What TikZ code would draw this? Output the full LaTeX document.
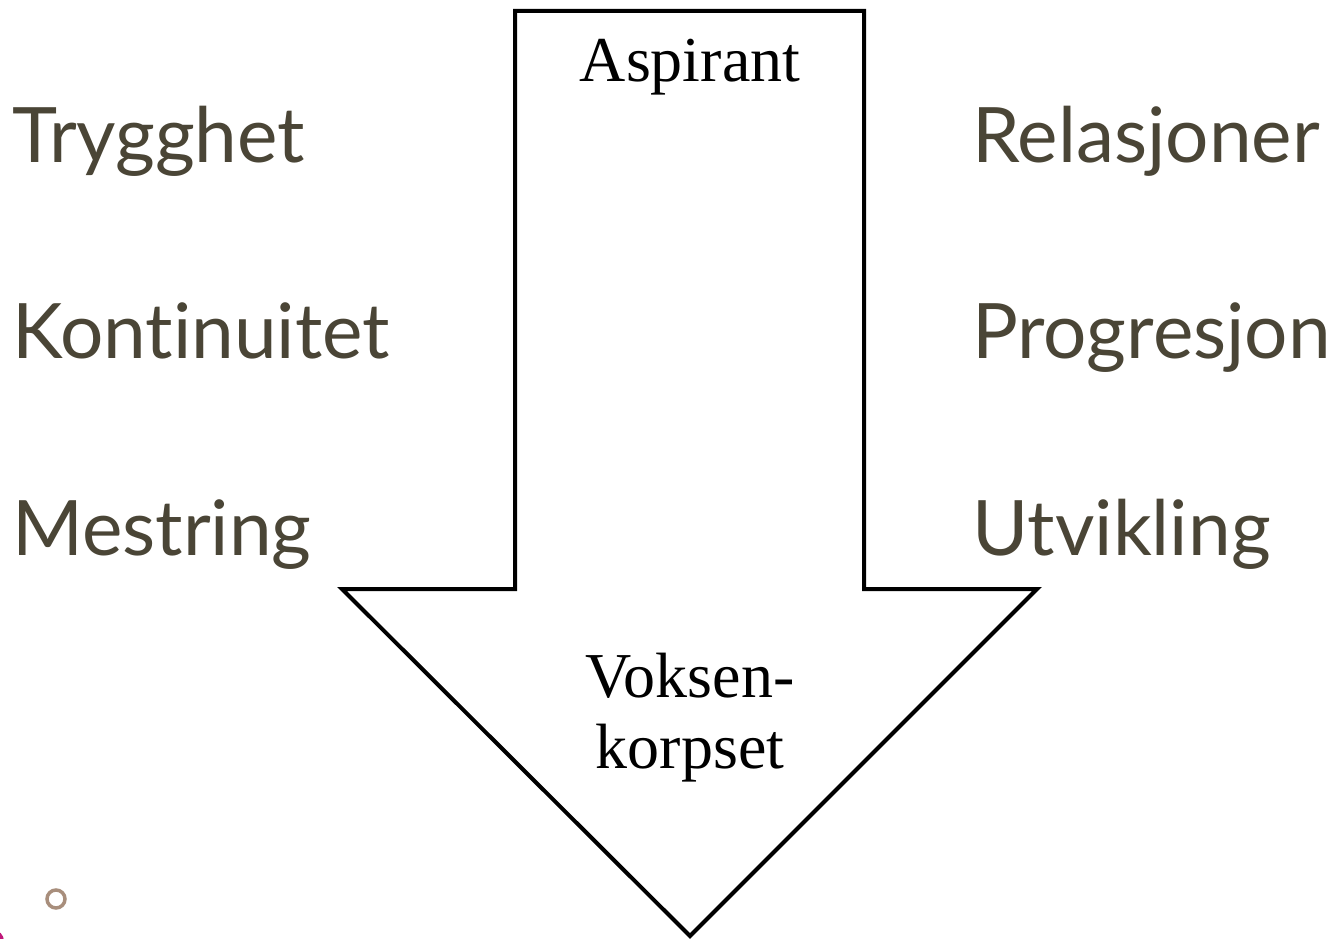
\documentclass[tikz,border=0pt]{standalone}
\usepackage{fontspec}
\setmainfont{Liberation Serif}
\newfontfamily\sidefont[Ligatures=NoCommon]{Lato}
\definecolor{sidegray}{HTML}{4A4536}
\definecolor{ringbrown}{HTML}{A88E7C}
\definecolor{dotmag}{HTML}{C0187A}
\begin{document}
\begin{tikzpicture}[x=1pt,y=-1pt,
  sidelabel/.style={anchor=base west,inner sep=0pt,text=sidegray,font=\sidefont\fontsize{76.5}{80}\selectfont},
  arrowlabel/.style={anchor=base,inner sep=0pt,font=\fontsize{64}{71}\selectfont}]
\useasboundingbox (0,0) rectangle (1333,939);
\fill[white] (0,0) rectangle (1333,939);
\draw[line width=4pt,line join=miter,fill=white]
  (515,11) -- (864,11) -- (864,589) -- (1037,589) -- (690,936) -- (342,589) -- (515,589) -- cycle;
\node[arrowlabel] (asp) at (690,82) {Aspirant};
\node[arrowlabel] (vok1) at (690,697) {Voksen-};
\node[arrowlabel] (vok2) at (690,768) {korpset};
\node[sidelabel] (t1) at (12,162) {Trygghet};
\node[sidelabel] (t2) at (12,358) {Kontinuitet};
\node[sidelabel] (t3) at (12,555) {Mestring};
\node[sidelabel] (r1) at (972,162) {Relasjoner};
\node[sidelabel] (r2) at (972,358) {Progresjon};
\node[sidelabel] (r3) at (972,555) {Utvikling};
\draw[ringbrown,line width=3.5pt] (56,899) circle (9);
\fill[dotmag] (-7,941) circle (11);
\end{tikzpicture}
\end{document}
